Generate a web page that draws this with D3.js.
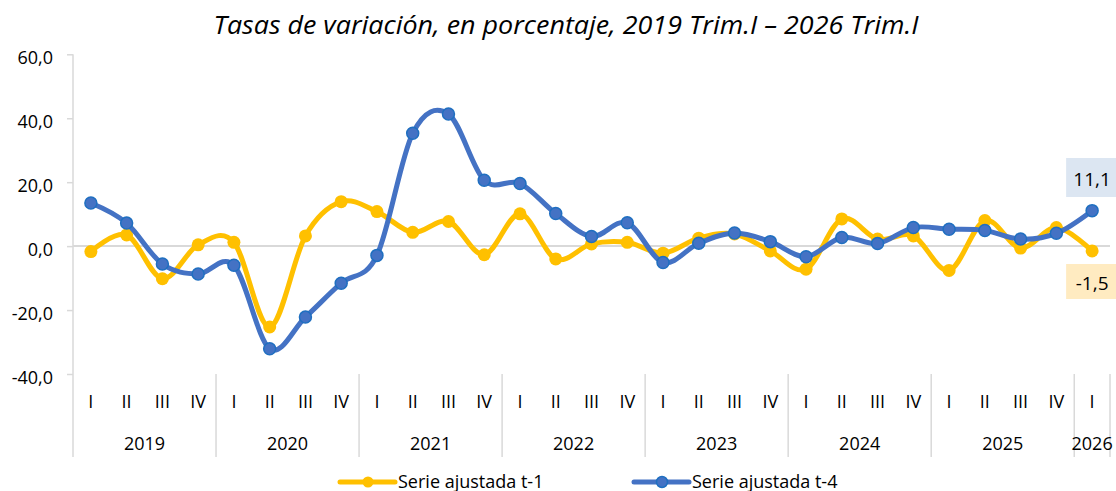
<!DOCTYPE html>
<html>
<head>
<meta charset="utf-8">
<script src="https://cdn.jsdelivr.net/npm/d3@7"></script>
<style>
  body { margin: 0; background: #fff; }
  svg { display: block; font-family: "Open Sans", sans-serif; }
</style>
</head>
<body>
<div id="chart"></div>
<script>
// data
var quarters = ["I","II","III","IV","I","II","III","IV","I","II","III","IV","I","II","III","IV",
                "I","II","III","IV","I","II","III","IV","I","II","III","IV","I"];
var years = ["2019","2020","2021","2022","2023","2024","2025","2026"];
var serieT1 = [-1.7, 3.5, -10.2, 0.4, 1.2, -25.3, 3.2, 13.9, 10.8, 4.3, 7.7, -2.7, 10.1, -4.0, 0.7, 1.2,
               -2.2, 2.5, 3.8, -1.5, -7.2, 8.5, 2.2, 3.2, -7.6, 8.0, -0.6, 5.8, -1.5];
var serieT4 = [13.5, 7.2, -5.6, -8.7, -6.0, -32.1, -22.2, -11.6, -2.9, 35.3, 41.3, 20.6, 19.6, 10.2, 3.0, 7.3,
               -5.1, 0.9, 4.1, 1.4, -3.3, 2.7, 0.8, 5.8, 5.3, 4.9, 2.2, 4.0, 11.1];
var yTicks = [-40, -20, 0, 20, 40, 60];
var seriesNames = ["Serie ajustada t-1", "Serie ajustada t-4"];

var width = 1116, height = 491;
var plotLeft = 73, plotRight = 1110, plotTop = 54.3, plotBottom = 374;

var yellow = "#FFC000", blue = "#4472C4", blueEdge = "#1F6FC0", grid = "#D9D9D9";

var es = d3.formatLocale({decimal: ",", thousands: ".", grouping: [3], currency: ["", "€"], minus: "-"});
var fmt = es.format(".1f");

var svg = d3.select("#chart").append("svg")
    .attr("width", width)
    .attr("height", height);

var idx = d3.range(quarters.length);
var x = d3.scaleBand().domain(idx).range([plotLeft, plotRight]).padding(0);
var y = d3.scaleLinear().domain([-40, 60]).range([plotBottom, plotTop]);
var cx = function(i) { return x(i) + x.bandwidth() / 2; };

// title
svg.append("text")
    .attr("x", 566)
    .attr("y", 34)
    .attr("text-anchor", "middle")
    .attr("font-style", "italic")
    .attr("font-size", 25)
    .attr("textLength", 705)
    .attr("lengthAdjust", "spacingAndGlyphs")
    .attr("fill", "#000")
    .text("Tasas de variación, en porcentaje, 2019 Trim.I – 2026 Trim.I");

// y axis
var yAxis = svg.append("g")
    .attr("transform", "translate(" + plotLeft + ",0)")
    .call(d3.axisLeft(y).tickValues(yTicks).tickFormat(fmt).tickSize(6).tickPadding(14));
yAxis.select(".domain").remove();
yAxis.selectAll(".tick line").attr("stroke", grid).attr("stroke-width", 1.5);
yAxis.selectAll(".tick text")
    .attr("font-size", 18)
    .attr("fill", "#000")
    .attr("font-family", "'Open Sans', sans-serif")
    .attr("dy", "0.5em");

// vertical axis line (runs down through the category labels)
svg.append("line")
    .attr("x1", plotLeft).attr("x2", plotLeft)
    .attr("y1", plotTop).attr("y2", 457)
    .attr("stroke", grid).attr("stroke-width", 1.5);

// zero line
svg.append("line")
    .attr("x1", plotLeft).attr("x2", plotRight)
    .attr("y1", y(0)).attr("y2", y(0))
    .attr("stroke", grid).attr("stroke-width", 2);

// year separators
var seps = d3.range(4, quarters.length, 4).concat([quarters.length]);
svg.selectAll(".sep")
    .data(seps)
    .enter().append("line")
    .attr("x1", function(d) { return d < quarters.length ? x(d) : plotRight; })
    .attr("x2", function(d) { return d < quarters.length ? x(d) : plotRight; })
    .attr("y1", plotBottom).attr("y2", 457)
    .attr("stroke", grid).attr("stroke-width", 1.5);

// quarter labels
svg.selectAll(".q")
    .data(idx)
    .enter().append("text")
    .attr("x", function(d) { return cx(d); })
    .attr("y", 402)
    .attr("dy", "0.35em")
    .attr("text-anchor", "middle")
    .attr("font-size", 18)
    .text(function(d) { return quarters[d]; });

// year labels
svg.selectAll(".yr")
    .data(years)
    .enter().append("text")
    .attr("x", function(d, i) {
        var a = i * 4, b = Math.min(i * 4 + 4, quarters.length);
        return (x(a) + (b < quarters.length ? x(b) : plotRight)) / 2;
    })
    .attr("y", 444)
    .attr("dy", "0.35em")
    .attr("text-anchor", "middle")
    .attr("font-size", 18)
    .text(function(d) { return d; });

var line = d3.line()
    .x(function(d, i) { return cx(i); })
    .y(function(d) { return y(d); })
    .curve(d3.curveCardinal.tension(0));

// t-1
svg.append("path")
    .datum(serieT1)
    .attr("d", line)
    .attr("fill", "none")
    .attr("stroke", yellow)
    .attr("stroke-width", 5)
    .attr("stroke-linejoin", "round");
svg.selectAll(".p1")
    .data(serieT1)
    .enter().append("circle")
    .attr("cx", function(d, i) { return cx(i); })
    .attr("cy", function(d) { return y(d); })
    .attr("r", 6.5)
    .attr("fill", yellow);

// t-4
svg.append("path")
    .datum(serieT4)
    .attr("d", line)
    .attr("fill", "none")
    .attr("stroke", blue)
    .attr("stroke-width", 5)
    .attr("stroke-linejoin", "round");
svg.selectAll(".p4")
    .data(serieT4)
    .enter().append("circle")
    .attr("cx", function(d, i) { return cx(i); })
    .attr("cy", function(d) { return y(d); })
    .attr("r", 6)
    .attr("fill", blue)
    .attr("stroke", blueEdge)
    .attr("stroke-width", 1.5);

// end labels
var last = quarters.length - 1;
var endLabels = [
    {v: serieT4[last], bg: "#DCE6F2", y0: 158, h: 39},
    {v: serieT1[last], bg: "#FFEBC1", y0: 264, h: 35}
];
endLabels.forEach(function(l) {
    svg.append("rect")
        .attr("x", cx(last) - 26)
        .attr("y", l.y0)
        .attr("width", 50)
        .attr("height", l.h)
        .attr("fill", l.bg);
    svg.append("text")
        .attr("x", cx(last))
        .attr("y", l.y0 + l.h / 2 + 2)
        .attr("dy", "0.35em")
        .attr("text-anchor", "middle")
        .attr("font-size", 19)
        .text(fmt(l.v));
});

// legend
var legend = [
    {name: seriesNames[0], color: yellow, edge: null, x0: 340},
    {name: seriesNames[1], color: blue, edge: blueEdge, x0: 634}
];
legend.forEach(function(l) {
    var g = svg.append("g");
    g.append("line")
        .attr("x1", l.x0).attr("x2", l.x0 + 55)
        .attr("y1", 482).attr("y2", 482)
        .attr("stroke", l.color).attr("stroke-width", 5)
        .attr("stroke-linecap", "round");
    g.append("circle")
        .attr("cx", l.x0 + 28).attr("cy", 482)
        .attr("r", 5.5)
        .attr("fill", l.color)
        .attr("stroke", l.edge || "none")
        .attr("stroke-width", 1.5);
    g.append("text")
        .attr("x", l.x0 + 58)
        .attr("y", 482)
        .attr("dy", "0.35em")
        .attr("font-size", 18)
        .text(l.name);
});
</script>
</body>
</html>
